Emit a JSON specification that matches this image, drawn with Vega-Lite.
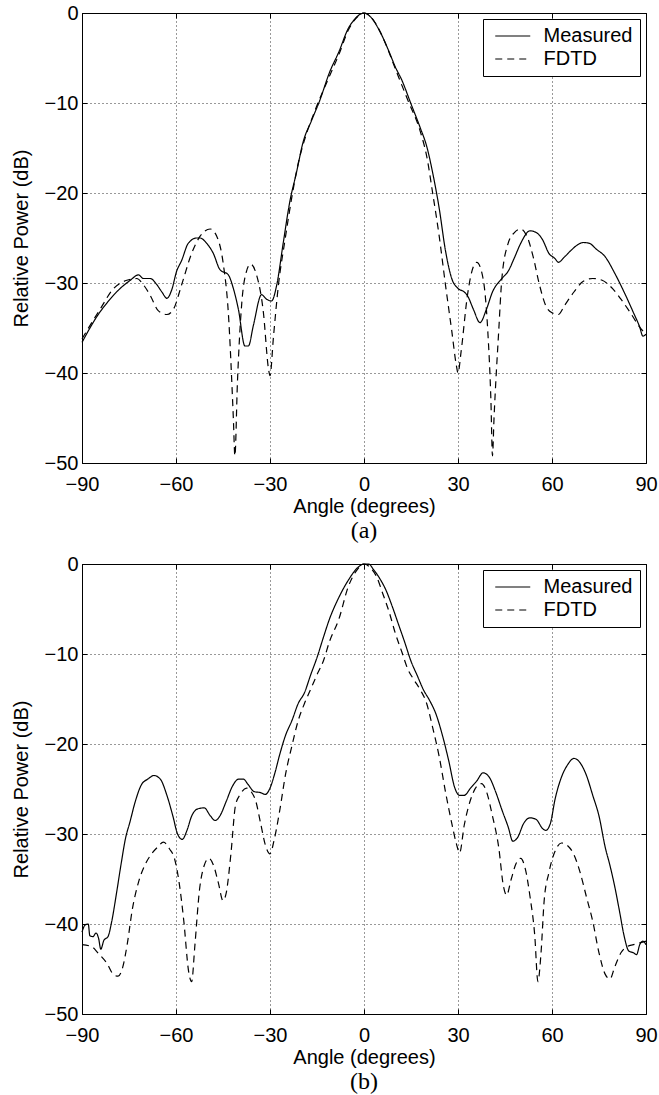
{
  "$schema": "https://vega.github.io/schema/vega-lite/v6.json",
  "autosize": {"type": "none"},
  "padding": {"left": 82, "top": 13, "right": 577, "bottom": 1082},
  "background": "white",
  "datasets": {
    "a": [
      {"angle": -90, "power": -36.6, "series": "Measured"}, {"angle": -87.3, "power": -34.9, "series": "Measured"}, {"angle": -85.2, "power": -33.7, "series": "Measured"}, {"angle": -82, "power": -32.2, "series": "Measured"}, {"angle": -77.8, "power": -30.6, "series": "Measured"}, {"angle": -74.6, "power": -29.7, "series": "Measured"}, {"angle": -72, "power": -29.1, "series": "Measured"}, {"angle": -70.4, "power": -29.5, "series": "Measured"}, {"angle": -68.2, "power": -29.5, "series": "Measured"}, {"angle": -66.1, "power": -30.2, "series": "Measured"}, {"angle": -64.5, "power": -31, "series": "Measured"}, {"angle": -62.9, "power": -31.7, "series": "Measured"}, {"angle": -61.4, "power": -30.8, "series": "Measured"}, {"angle": -59.8, "power": -28.7, "series": "Measured"}, {"angle": -58.2, "power": -27.5, "series": "Measured"}, {"angle": -56.1, "power": -25.6, "series": "Measured"}, {"angle": -53.4, "power": -25.0, "series": "Measured"}, {"angle": -52.3, "power": -25.0, "series": "Measured"}, {"angle": -50.2, "power": -25.6, "series": "Measured"}, {"angle": -48.1, "power": -26.7, "series": "Measured"}, {"angle": -46, "power": -28.5, "series": "Measured"}, {"angle": -43.3, "power": -29.1, "series": "Measured"}, {"angle": -41.7, "power": -30.6, "series": "Measured"}, {"angle": -40.1, "power": -32.9, "series": "Measured"}, {"angle": -38, "power": -37, "series": "Measured"}, {"angle": -36.9, "power": -37, "series": "Measured"}, {"angle": -35.3, "power": -34.7, "series": "Measured"}, {"angle": -32.7, "power": -31.3, "series": "Measured"}, {"angle": -31.1, "power": -31.8, "series": "Measured"}, {"angle": -29.5, "power": -32, "series": "Measured"}, {"angle": -27.9, "power": -30.3, "series": "Measured"}, {"angle": -25.8, "power": -25.6, "series": "Measured"}, {"angle": -23.7, "power": -21, "series": "Measured"}, {"angle": -21.6, "power": -17.8, "series": "Measured"}, {"angle": -19.4, "power": -14.3, "series": "Measured"}, {"angle": -16.8, "power": -12, "series": "Measured"}, {"angle": -14.1, "power": -9.7, "series": "Measured"}, {"angle": -11, "power": -6.6, "series": "Measured"}, {"angle": -8, "power": -4.3, "series": "Measured"}, {"angle": -5, "power": -1.7, "series": "Measured"}, {"angle": -3, "power": -0.7, "series": "Measured"}, {"angle": -1, "power": -0.1, "series": "Measured"}, {"angle": 0, "power": 0, "series": "Measured"}, {"angle": 2, "power": -0.4, "series": "Measured"}, {"angle": 5, "power": -2, "series": "Measured"}, {"angle": 8, "power": -4.3, "series": "Measured"}, {"angle": 10, "power": -6, "series": "Measured"}, {"angle": 12, "power": -7.4, "series": "Measured"}, {"angle": 15, "power": -10.1, "series": "Measured"}, {"angle": 18, "power": -12.8, "series": "Measured"}, {"angle": 20, "power": -14.8, "series": "Measured"}, {"angle": 22, "power": -17.9, "series": "Measured"}, {"angle": 24, "power": -21.7, "series": "Measured"}, {"angle": 26, "power": -26.4, "series": "Measured"}, {"angle": 28, "power": -29.5, "series": "Measured"}, {"angle": 30, "power": -30.6, "series": "Measured"}, {"angle": 32, "power": -31, "series": "Measured"}, {"angle": 33, "power": -31.4, "series": "Measured"}, {"angle": 35, "power": -33, "series": "Measured"}, {"angle": 37, "power": -34.4, "series": "Measured"}, {"angle": 39, "power": -33, "series": "Measured"}, {"angle": 41, "power": -31, "series": "Measured"}, {"angle": 44, "power": -29.5, "series": "Measured"}, {"angle": 46, "power": -28.7, "series": "Measured"}, {"angle": 48, "power": -27.2, "series": "Measured"}, {"angle": 50, "power": -25.6, "series": "Measured"}, {"angle": 53, "power": -24.2, "series": "Measured"}, {"angle": 55, "power": -24.4, "series": "Measured"}, {"angle": 57, "power": -25.2, "series": "Measured"}, {"angle": 59, "power": -26.7, "series": "Measured"}, {"angle": 61, "power": -27.3, "series": "Measured"}, {"angle": 62, "power": -27.7, "series": "Measured"}, {"angle": 64, "power": -27.1, "series": "Measured"}, {"angle": 66, "power": -26.4, "series": "Measured"}, {"angle": 68, "power": -25.8, "series": "Measured"}, {"angle": 70, "power": -25.5, "series": "Measured"}, {"angle": 72, "power": -25.6, "series": "Measured"}, {"angle": 74, "power": -26.2, "series": "Measured"}, {"angle": 77, "power": -27.1, "series": "Measured"}, {"angle": 80, "power": -28.9, "series": "Measured"}, {"angle": 83, "power": -31, "series": "Measured"}, {"angle": 86, "power": -33.3, "series": "Measured"}, {"angle": 88, "power": -34.9, "series": "Measured"}, {"angle": 89, "power": -35.9, "series": "Measured"}, {"angle": 90, "power": -35.7, "series": "Measured"},
      {"angle": -90, "power": -36.2, "series": "FDTD"}, {"angle": -84.2, "power": -32.9, "series": "FDTD"}, {"angle": -79.9, "power": -30.6, "series": "FDTD"}, {"angle": -75.7, "power": -29.7, "series": "FDTD"}, {"angle": -72.5, "power": -29.5, "series": "FDTD"}, {"angle": -70.4, "power": -30.2, "series": "FDTD"}, {"angle": -68.2, "power": -31.4, "series": "FDTD"}, {"angle": -65.6, "power": -33.1, "series": "FDTD"}, {"angle": -62.9, "power": -33.5, "series": "FDTD"}, {"angle": -60.8, "power": -32.9, "series": "FDTD"}, {"angle": -58.2, "power": -30.2, "series": "FDTD"}, {"angle": -55, "power": -26.7, "series": "FDTD"}, {"angle": -52.3, "power": -24.8, "series": "FDTD"}, {"angle": -49.1, "power": -24, "series": "FDTD"}, {"angle": -47, "power": -24.8, "series": "FDTD"}, {"angle": -44.9, "power": -27.9, "series": "FDTD"}, {"angle": -43.3, "power": -33.3, "series": "FDTD"}, {"angle": -41.7, "power": -45, "series": "FDTD"}, {"angle": -41.2, "power": -49.2, "series": "FDTD"}, {"angle": -40.4, "power": -41.1, "series": "FDTD"}, {"angle": -39, "power": -32.2, "series": "FDTD"}, {"angle": -37.5, "power": -28.7, "series": "FDTD"}, {"angle": -36.2, "power": -27.9, "series": "FDTD"}, {"angle": -34.3, "power": -29.1, "series": "FDTD"}, {"angle": -32.1, "power": -33.3, "series": "FDTD"}, {"angle": -30.5, "power": -39.5, "series": "FDTD"}, {"angle": -30, "power": -40.3, "series": "FDTD"}, {"angle": -28.9, "power": -36, "series": "FDTD"}, {"angle": -27.3, "power": -30.2, "series": "FDTD"}, {"angle": -25.2, "power": -25.2, "series": "FDTD"}, {"angle": -23.1, "power": -20.6, "series": "FDTD"}, {"angle": -21, "power": -16.7, "series": "FDTD"}, {"angle": -18.9, "power": -14, "series": "FDTD"}, {"angle": -15.7, "power": -10.9, "series": "FDTD"}, {"angle": -11, "power": -7, "series": "FDTD"}, {"angle": -8, "power": -4.6, "series": "FDTD"}, {"angle": -5, "power": -1.9, "series": "FDTD"}, {"angle": -2, "power": -0.4, "series": "FDTD"}, {"angle": 0, "power": 0, "series": "FDTD"}, {"angle": 3, "power": -0.8, "series": "FDTD"}, {"angle": 6, "power": -2.7, "series": "FDTD"}, {"angle": 10, "power": -6.2, "series": "FDTD"}, {"angle": 14, "power": -9.7, "series": "FDTD"}, {"angle": 18, "power": -13.2, "series": "FDTD"}, {"angle": 20, "power": -15.9, "series": "FDTD"}, {"angle": 22, "power": -20.2, "series": "FDTD"}, {"angle": 24, "power": -24.8, "series": "FDTD"}, {"angle": 26, "power": -30.2, "series": "FDTD"}, {"angle": 28, "power": -35.3, "series": "FDTD"}, {"angle": 29.5, "power": -39.2, "series": "FDTD"}, {"angle": 30, "power": -40, "series": "FDTD"}, {"angle": 31, "power": -37.6, "series": "FDTD"}, {"angle": 33, "power": -31.4, "series": "FDTD"}, {"angle": 35, "power": -28.1, "series": "FDTD"}, {"angle": 36, "power": -27.7, "series": "FDTD"}, {"angle": 38, "power": -29.5, "series": "FDTD"}, {"angle": 39.5, "power": -35.3, "series": "FDTD"}, {"angle": 40.5, "power": -43, "series": "FDTD"}, {"angle": 41, "power": -49.2, "series": "FDTD"}, {"angle": 41.5, "power": -45, "series": "FDTD"}, {"angle": 43, "power": -35.3, "series": "FDTD"}, {"angle": 44, "power": -29.5, "series": "FDTD"}, {"angle": 46, "power": -25.6, "series": "FDTD"}, {"angle": 48, "power": -24.4, "series": "FDTD"}, {"angle": 50, "power": -24, "series": "FDTD"}, {"angle": 52, "power": -24.8, "series": "FDTD"}, {"angle": 54, "power": -27.1, "series": "FDTD"}, {"angle": 56, "power": -30.2, "series": "FDTD"}, {"angle": 58, "power": -32.5, "series": "FDTD"}, {"angle": 60, "power": -33.3, "series": "FDTD"}, {"angle": 62, "power": -33.5, "series": "FDTD"}, {"angle": 64, "power": -32.5, "series": "FDTD"}, {"angle": 67, "power": -31, "series": "FDTD"}, {"angle": 70, "power": -29.8, "series": "FDTD"}, {"angle": 73, "power": -29.5, "series": "FDTD"}, {"angle": 76, "power": -29.7, "series": "FDTD"}, {"angle": 79, "power": -30.5, "series": "FDTD"}, {"angle": 82, "power": -31.8, "series": "FDTD"}, {"angle": 85, "power": -33.3, "series": "FDTD"}, {"angle": 88, "power": -34.9, "series": "FDTD"}, {"angle": 90, "power": -35.7, "series": "FDTD"}
    ],
    "b": [
      {"angle": -90, "power": -40.9, "series": "Measured"}, {"angle": -89, "power": -40.1, "series": "Measured"}, {"angle": -88, "power": -40, "series": "Measured"}, {"angle": -87.5, "power": -41.3, "series": "Measured"}, {"angle": -86.5, "power": -41.4, "series": "Measured"}, {"angle": -85.5, "power": -41, "series": "Measured"}, {"angle": -84.7, "power": -41.6, "series": "Measured"}, {"angle": -84, "power": -42.8, "series": "Measured"}, {"angle": -83, "power": -41.8, "series": "Measured"}, {"angle": -81.7, "power": -41.4, "series": "Measured"}, {"angle": -80.5, "power": -39.7, "series": "Measured"}, {"angle": -79, "power": -36.6, "series": "Measured"}, {"angle": -77.6, "power": -33.5, "series": "Measured"}, {"angle": -76, "power": -30.3, "series": "Measured"}, {"angle": -74.8, "power": -28.8, "series": "Measured"}, {"angle": -73, "power": -26.4, "series": "Measured"}, {"angle": -71, "power": -24.5, "series": "Measured"}, {"angle": -69, "power": -23.9, "series": "Measured"}, {"angle": -67, "power": -23.5, "series": "Measured"}, {"angle": -65, "power": -23.9, "series": "Measured"}, {"angle": -63, "power": -25.6, "series": "Measured"}, {"angle": -61, "power": -28, "series": "Measured"}, {"angle": -59.5, "power": -30, "series": "Measured"}, {"angle": -58, "power": -30.6, "series": "Measured"}, {"angle": -56.5, "power": -29.6, "series": "Measured"}, {"angle": -55, "power": -28, "series": "Measured"}, {"angle": -53, "power": -27.2, "series": "Measured"}, {"angle": -51, "power": -27.1, "series": "Measured"}, {"angle": -49, "power": -28, "series": "Measured"}, {"angle": -47.5, "power": -28.5, "series": "Measured"}, {"angle": -46, "power": -28, "series": "Measured"}, {"angle": -44, "power": -26.4, "series": "Measured"}, {"angle": -42, "power": -24.7, "series": "Measured"}, {"angle": -40, "power": -23.9, "series": "Measured"}, {"angle": -38.5, "power": -23.9, "series": "Measured"}, {"angle": -37, "power": -24.5, "series": "Measured"}, {"angle": -35, "power": -25.3, "series": "Measured"}, {"angle": -33, "power": -25.4, "series": "Measured"}, {"angle": -31.5, "power": -25.6, "series": "Measured"}, {"angle": -30, "power": -24.9, "series": "Measured"}, {"angle": -28.5, "power": -23.3, "series": "Measured"}, {"angle": -27, "power": -21.3, "series": "Measured"}, {"angle": -25, "power": -19, "series": "Measured"}, {"angle": -23, "power": -17.4, "series": "Measured"}, {"angle": -21, "power": -15.5, "series": "Measured"}, {"angle": -19, "power": -14.3, "series": "Measured"}, {"angle": -17, "power": -12.3, "series": "Measured"}, {"angle": -15, "power": -10.4, "series": "Measured"}, {"angle": -13, "power": -8.2, "series": "Measured"}, {"angle": -11, "power": -6.1, "series": "Measured"}, {"angle": -8, "power": -3.7, "series": "Measured"}, {"angle": -5, "power": -1.8, "series": "Measured"}, {"angle": -2, "power": -0.4, "series": "Measured"}, {"angle": 0, "power": 0, "series": "Measured"}, {"angle": 1.5, "power": 0, "series": "Measured"}, {"angle": 3, "power": -0.6, "series": "Measured"}, {"angle": 5, "power": -1.6, "series": "Measured"}, {"angle": 7, "power": -2.9, "series": "Measured"}, {"angle": 9, "power": -4.7, "series": "Measured"}, {"angle": 11, "power": -6.7, "series": "Measured"}, {"angle": 13, "power": -8.7, "series": "Measured"}, {"angle": 15, "power": -10.8, "series": "Measured"}, {"angle": 17, "power": -12.4, "series": "Measured"}, {"angle": 19, "power": -14, "series": "Measured"}, {"angle": 21, "power": -15.2, "series": "Measured"}, {"angle": 23, "power": -16.7, "series": "Measured"}, {"angle": 25, "power": -19, "series": "Measured"}, {"angle": 27, "power": -21.8, "series": "Measured"}, {"angle": 29, "power": -24.9, "series": "Measured"}, {"angle": 30.5, "power": -25.7, "series": "Measured"}, {"angle": 32, "power": -25.7, "series": "Measured"}, {"angle": 34, "power": -24.9, "series": "Measured"}, {"angle": 36, "power": -24.1, "series": "Measured"}, {"angle": 38, "power": -23.2, "series": "Measured"}, {"angle": 40, "power": -23.7, "series": "Measured"}, {"angle": 42, "power": -25.3, "series": "Measured"}, {"angle": 44, "power": -27.3, "series": "Measured"}, {"angle": 46, "power": -29.2, "series": "Measured"}, {"angle": 47.5, "power": -30.8, "series": "Measured"}, {"angle": 49, "power": -30.4, "series": "Measured"}, {"angle": 51, "power": -28.8, "series": "Measured"}, {"angle": 53, "power": -28.2, "series": "Measured"}, {"angle": 55, "power": -28.4, "series": "Measured"}, {"angle": 57, "power": -29.4, "series": "Measured"}, {"angle": 58, "power": -29.6, "series": "Measured"}, {"angle": 59.5, "power": -28.8, "series": "Measured"}, {"angle": 61, "power": -26.1, "series": "Measured"}, {"angle": 63, "power": -23.7, "series": "Measured"}, {"angle": 65, "power": -22.3, "series": "Measured"}, {"angle": 67, "power": -21.6, "series": "Measured"}, {"angle": 69, "power": -22.1, "series": "Measured"}, {"angle": 71, "power": -23.5, "series": "Measured"}, {"angle": 73, "power": -25.7, "series": "Measured"}, {"angle": 75, "power": -28, "series": "Measured"}, {"angle": 77, "power": -31.5, "series": "Measured"}, {"angle": 78.5, "power": -33.5, "series": "Measured"}, {"angle": 80, "power": -35.8, "series": "Measured"}, {"angle": 81.5, "power": -38.5, "series": "Measured"}, {"angle": 83, "power": -41.3, "series": "Measured"}, {"angle": 84.5, "power": -43, "series": "Measured"}, {"angle": 86, "power": -43.2, "series": "Measured"}, {"angle": 87, "power": -43.4, "series": "Measured"}, {"angle": 88, "power": -42.3, "series": "Measured"}, {"angle": 89, "power": -41.9, "series": "Measured"}, {"angle": 90, "power": -42.3, "series": "Measured"},
      {"angle": -90, "power": -42.3, "series": "FDTD"}, {"angle": -87, "power": -42.5, "series": "FDTD"}, {"angle": -84.7, "power": -43.3, "series": "FDTD"}, {"angle": -82, "power": -44.4, "series": "FDTD"}, {"angle": -80, "power": -45.6, "series": "FDTD"}, {"angle": -78.5, "power": -45.8, "series": "FDTD"}, {"angle": -77, "power": -44.8, "series": "FDTD"}, {"angle": -75.5, "power": -42.1, "series": "FDTD"}, {"angle": -74, "power": -38.5, "series": "FDTD"}, {"angle": -72, "power": -35.4, "series": "FDTD"}, {"angle": -70, "power": -33.5, "series": "FDTD"}, {"angle": -68, "power": -32.3, "series": "FDTD"}, {"angle": -66, "power": -31.5, "series": "FDTD"}, {"angle": -64, "power": -30.9, "series": "FDTD"}, {"angle": -62, "power": -31.7, "series": "FDTD"}, {"angle": -60.5, "power": -32.7, "series": "FDTD"}, {"angle": -59, "power": -35.4, "series": "FDTD"}, {"angle": -57.5, "power": -39.7, "series": "FDTD"}, {"angle": -56, "power": -45.2, "series": "FDTD"}, {"angle": -55, "power": -46.4, "series": "FDTD"}, {"angle": -54, "power": -42.5, "series": "FDTD"}, {"angle": -52.5, "power": -36.2, "series": "FDTD"}, {"angle": -51, "power": -33.5, "series": "FDTD"}, {"angle": -49.5, "power": -32.7, "series": "FDTD"}, {"angle": -48, "power": -33.5, "series": "FDTD"}, {"angle": -46.5, "power": -35.4, "series": "FDTD"}, {"angle": -45, "power": -37.4, "series": "FDTD"}, {"angle": -44, "power": -36.6, "series": "FDTD"}, {"angle": -42.5, "power": -32.3, "series": "FDTD"}, {"angle": -41, "power": -26.8, "series": "FDTD"}, {"angle": -39.5, "power": -25.6, "series": "FDTD"}, {"angle": -37.5, "power": -24.9, "series": "FDTD"}, {"angle": -36, "power": -25.3, "series": "FDTD"}, {"angle": -34.5, "power": -26.4, "series": "FDTD"}, {"angle": -33, "power": -28.8, "series": "FDTD"}, {"angle": -31.5, "power": -31.2, "series": "FDTD"}, {"angle": -30, "power": -32.2, "series": "FDTD"}, {"angle": -28.7, "power": -30.7, "series": "FDTD"}, {"angle": -27, "power": -27.6, "series": "FDTD"}, {"angle": -25, "power": -23.3, "series": "FDTD"}, {"angle": -23, "power": -20.2, "series": "FDTD"}, {"angle": -21, "power": -17.4, "series": "FDTD"}, {"angle": -19, "power": -15.5, "series": "FDTD"}, {"angle": -17, "power": -13.9, "series": "FDTD"}, {"angle": -15, "power": -12.3, "series": "FDTD"}, {"angle": -13, "power": -10.8, "series": "FDTD"}, {"angle": -11, "power": -8.6, "series": "FDTD"}, {"angle": -8, "power": -6.1, "series": "FDTD"}, {"angle": -5, "power": -2.5, "series": "FDTD"}, {"angle": -2.5, "power": -0.8, "series": "FDTD"}, {"angle": 0, "power": 0, "series": "FDTD"}, {"angle": 2, "power": -0.4, "series": "FDTD"}, {"angle": 4, "power": -1.4, "series": "FDTD"}, {"angle": 6, "power": -3.3, "series": "FDTD"}, {"angle": 8, "power": -5.3, "series": "FDTD"}, {"angle": 10, "power": -7.7, "series": "FDTD"}, {"angle": 12, "power": -9.7, "series": "FDTD"}, {"angle": 14, "power": -11.7, "series": "FDTD"}, {"angle": 16, "power": -12.9, "series": "FDTD"}, {"angle": 18, "power": -14, "series": "FDTD"}, {"angle": 20, "power": -15.5, "series": "FDTD"}, {"angle": 22, "power": -18.3, "series": "FDTD"}, {"angle": 24, "power": -21.4, "series": "FDTD"}, {"angle": 26, "power": -25.3, "series": "FDTD"}, {"angle": 28, "power": -28.8, "series": "FDTD"}, {"angle": 29.5, "power": -31.1, "series": "FDTD"}, {"angle": 30.5, "power": -32.1, "series": "FDTD"}, {"angle": 32, "power": -29, "series": "FDTD"}, {"angle": 34, "power": -26.2, "series": "FDTD"}, {"angle": 36, "power": -24.7, "series": "FDTD"}, {"angle": 37.5, "power": -24.4, "series": "FDTD"}, {"angle": 39, "power": -25.2, "series": "FDTD"}, {"angle": 41, "power": -28, "series": "FDTD"}, {"angle": 43, "power": -31.5, "series": "FDTD"}, {"angle": 44.5, "power": -35.8, "series": "FDTD"}, {"angle": 45.5, "power": -36.8, "series": "FDTD"}, {"angle": 47, "power": -35, "series": "FDTD"}, {"angle": 48.5, "power": -33.3, "series": "FDTD"}, {"angle": 50, "power": -32.7, "series": "FDTD"}, {"angle": 51.5, "power": -33.9, "series": "FDTD"}, {"angle": 53, "power": -37, "series": "FDTD"}, {"angle": 54.5, "power": -41.3, "series": "FDTD"}, {"angle": 55.5, "power": -46.4, "series": "FDTD"}, {"angle": 56.5, "power": -43.2, "series": "FDTD"}, {"angle": 57.5, "power": -37.4, "series": "FDTD"}, {"angle": 59, "power": -34.3, "series": "FDTD"}, {"angle": 61, "power": -31.9, "series": "FDTD"}, {"angle": 63, "power": -31, "series": "FDTD"}, {"angle": 65, "power": -31.3, "series": "FDTD"}, {"angle": 67, "power": -32.3, "series": "FDTD"}, {"angle": 69, "power": -34.3, "series": "FDTD"}, {"angle": 71, "power": -37, "series": "FDTD"}, {"angle": 73, "power": -39.7, "series": "FDTD"}, {"angle": 75, "power": -43.2, "series": "FDTD"}, {"angle": 77, "power": -45.6, "series": "FDTD"}, {"angle": 78.5, "power": -46.1, "series": "FDTD"}, {"angle": 80, "power": -44.8, "series": "FDTD"}, {"angle": 82, "power": -43.2, "series": "FDTD"}, {"angle": 84, "power": -42.5, "series": "FDTD"}, {"angle": 86, "power": -42.3, "series": "FDTD"}, {"angle": 88, "power": -42.1, "series": "FDTD"}, {"angle": 90, "power": -41.9, "series": "FDTD"}
    ]
  },
  "bounds": "flush",
  "spacing": 101,
  "vconcat": [
    {
      "width": 564, "height": 450,
      "data": {"name": "a"},
      "title": {"text": "(a)", "orient": "bottom", "font": "Liberation Serif", "fontSize": 24, "fontWeight": "normal", "color": "black", "offset": 3},
      "layer": [
        {
          "mark": {"type": "line", "color": "black", "strokeWidth": 1.2, "interpolate": "monotone"},
          "encoding": {
            "x": {"field": "angle", "type": "quantitative", "scale": {"domain": [-90, 90], "nice": false, "zero": false},
                  "axis": {"values": [-90, -60, -30, 0, 30, 60, 90], "title": "Angle (degrees)", "grid": true, "tickSize": -5, "labelPadding": 16, "titlePadding": 2, "domain": false, "labelFlush": false}},
            "y": {"field": "power", "type": "quantitative", "scale": {"domain": [-50, 0], "nice": false, "zero": false},
                  "axis": {"values": [-50, -40, -30, -20, -10, 0], "title": "Relative Power (dB)", "grid": true, "tickSize": -5, "labelPadding": 9, "titlePadding": 13, "domain": false, "labelFlush": false}},
            "strokeDash": {"field": "series", "type": "nominal", "scale": {"domain": ["Measured", "FDTD"], "range": [[1, 0], [7, 5]]},
                           "legend": {"title": null, "orient": "none", "legendX": 401, "legendY": 6}}
          }
        },
        {
          "mark": {"type": "point", "opacity": 0},
          "encoding": {
            "x": {"field": "angle", "type": "quantitative", "axis": {"values": [-90, -60, -30, 0, 30, 60, 90], "title": null, "labels": false, "grid": false, "tickSize": -5, "domain": false}},
            "y": {"field": "power", "type": "quantitative", "axis": {"values": [-50, -40, -30, -20, -10, 0], "title": null, "labels": false, "grid": false, "tickSize": -5, "domain": false}}
          }
        }
      ],
      "resolve": {"axis": {"x": "independent", "y": "independent"}}
    },
    {
      "width": 564, "height": 450,
      "data": {"name": "b"},
      "title": {"text": "(b)", "orient": "bottom", "font": "Liberation Serif", "fontSize": 24, "fontWeight": "normal", "color": "black", "offset": 3},
      "layer": [
        {
          "mark": {"type": "line", "color": "black", "strokeWidth": 1.2, "interpolate": "monotone"},
          "encoding": {
            "x": {"field": "angle", "type": "quantitative", "scale": {"domain": [-90, 90], "nice": false, "zero": false},
                  "axis": {"values": [-90, -60, -30, 0, 30, 60, 90], "title": "Angle (degrees)", "grid": true, "tickSize": -5, "labelPadding": 16, "titlePadding": 2, "domain": false, "labelFlush": false}},
            "y": {"field": "power", "type": "quantitative", "scale": {"domain": [-50, 0], "nice": false, "zero": false},
                  "axis": {"values": [-50, -40, -30, -20, -10, 0], "title": "Relative Power (dB)", "grid": true, "tickSize": -5, "labelPadding": 9, "titlePadding": 13, "domain": false, "labelFlush": false}},
            "strokeDash": {"field": "series", "type": "nominal", "scale": {"domain": ["Measured", "FDTD"], "range": [[1, 0], [7, 5]]},
                           "legend": {"title": null, "orient": "none", "legendX": 401, "legendY": 6}}
          }
        },
        {
          "mark": {"type": "point", "opacity": 0},
          "encoding": {
            "x": {"field": "angle", "type": "quantitative", "axis": {"values": [-90, -60, -30, 0, 30, 60, 90], "title": null, "labels": false, "grid": false, "tickSize": -5, "domain": false}},
            "y": {"field": "power", "type": "quantitative", "axis": {"values": [-50, -40, -30, -20, -10, 0], "title": null, "labels": false, "grid": false, "tickSize": -5, "domain": false}}
          }
        }
      ],
      "resolve": {"axis": {"x": "independent", "y": "independent"}}
    }
  ],
  "resolve": {"scale": {"strokeDash": "independent"}, "legend": {"strokeDash": "independent"}},
  "config": {
    "font": "Liberation Sans",
    "view": {"stroke": "black", "strokeWidth": 1},
    "axis": {"labelFont": "Liberation Sans", "titleFont": "Liberation Sans", "labelFontSize": 20, "titleFontSize": 20, "titleFontWeight": "normal", "labelColor": "black", "titleColor": "black", "tickColor": "black", "gridColor": "black", "gridDash": [1, 3], "gridOpacity": 0.8, "gridWidth": 1},
    "legend": {"strokeColor": "black", "fillColor": "white", "padding": 7, "symbolType": "M-0.543,0H3.457", "symbolSize": 306.25, "symbolStrokeWidth": 1.2, "symbolStrokeColor": "black", "symbolFillColor": "transparent", "labelFont": "Liberation Sans", "labelFontSize": 20, "labelColor": "black", "labelOffset": 33.5, "rowPadding": 3, "cornerRadius": 0, "labelExpr": "datum.label + '\u00a0'"}
  }
}
